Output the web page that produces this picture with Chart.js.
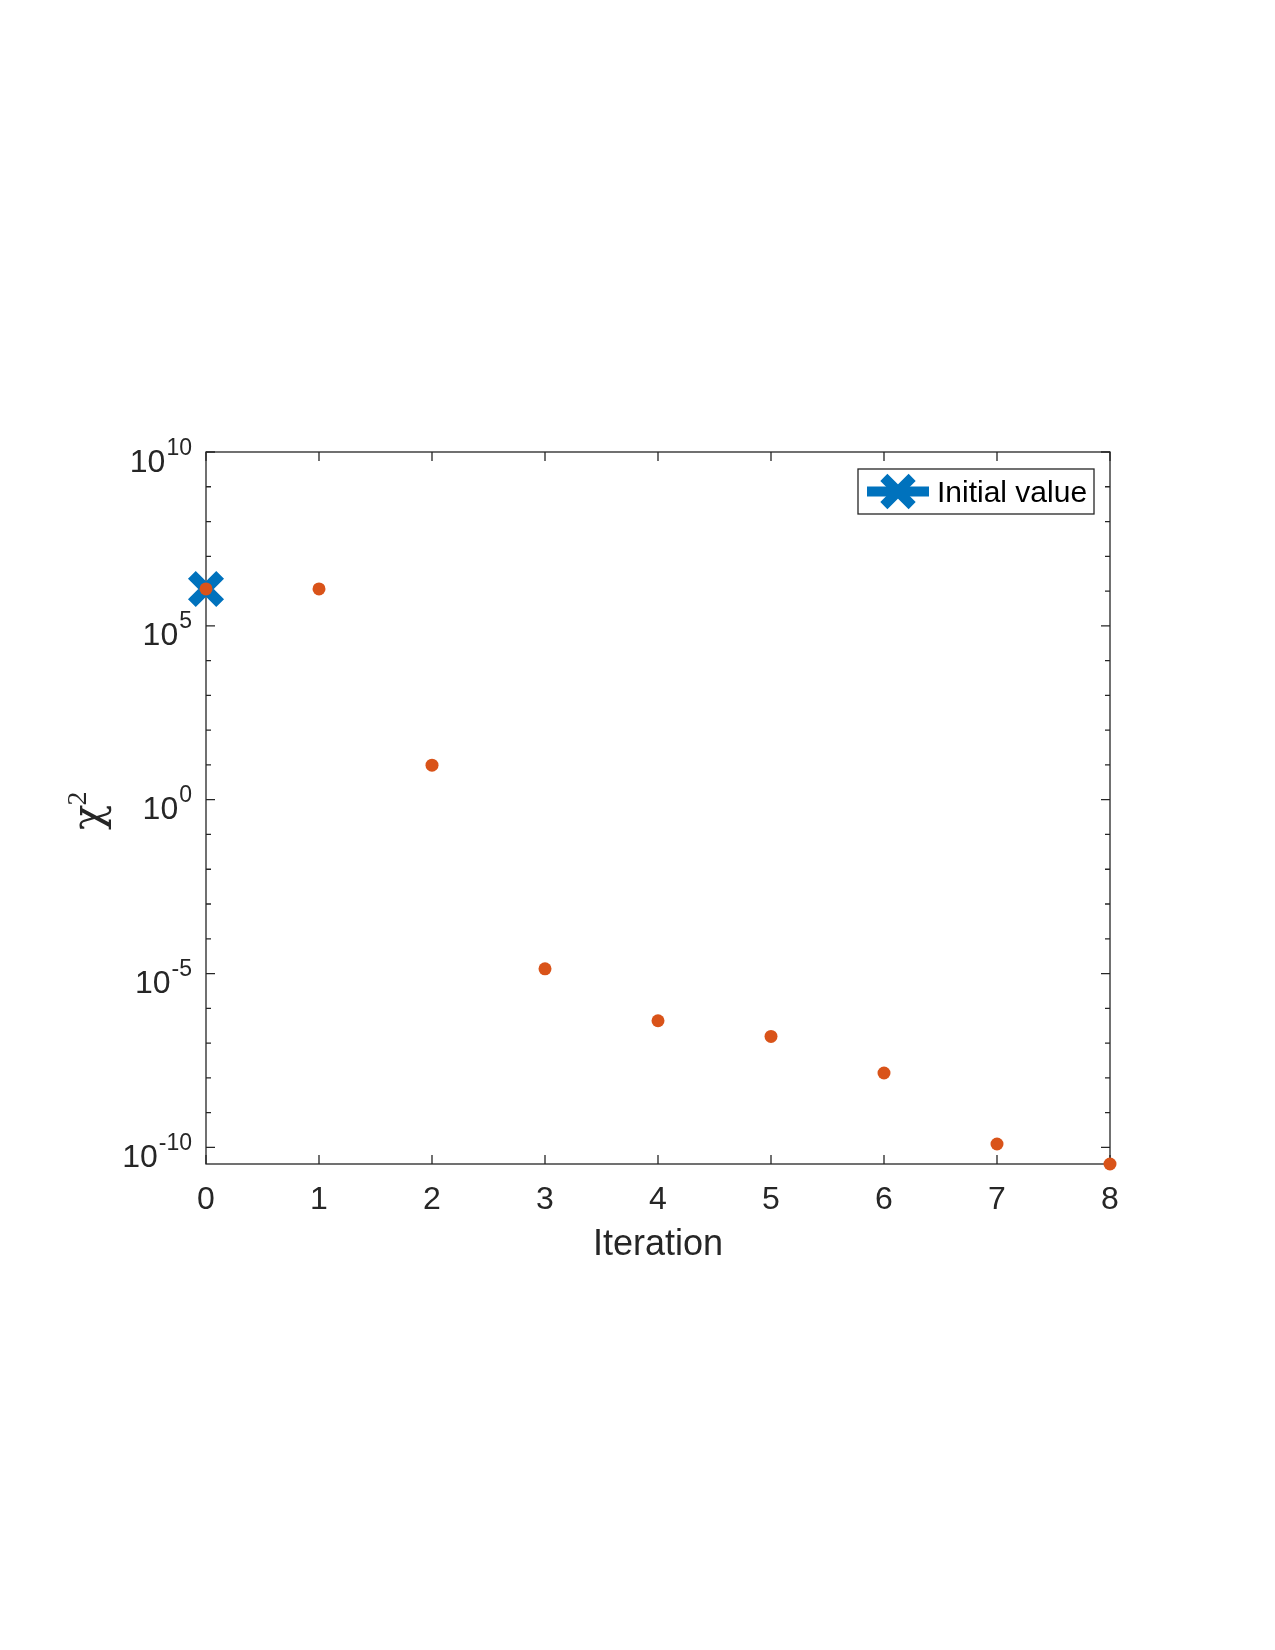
<!DOCTYPE html>
<html>
<head>
<meta charset="utf-8">
<title>chi2 vs iteration</title>
<script src="https://cdn.jsdelivr.net/npm/chart.js@4.4.1/dist/chart.umd.min.js"></script>
<style>
  html, body { margin: 0; padding: 0; background: #fff; }
  canvas { display: block; }
</style>
</head>
<body>
<canvas id="chart" width="1275" height="1650"></canvas>
<script>
// data
const iterations = [0, 1, 2, 3, 4, 5, 6, 7, 8]
const chi2 = [1.15e6, 1.15e6, 9.85, 1.37e-5, 4.39e-7, 1.55e-7, 1.38e-8, 1.25e-10, 3.33e-11]
const initialIter = [0]
const initialChi2 = [1.15e6]

const xTicks = [0, 1, 2, 3, 4, 5, 6, 7, 8]
const yMajorExps = [-10, -5, 0, 5, 10]
const yMinorExps = [-9, -8, -7, -6, -4, -3, -2, -1, 1, 2, 3, 4, 6, 7, 8, 9]
const legendLabel = 'Initial value'
const xTitle = 'Iteration'

const axisColor = '#262626'
const sans = '"Liberation Sans", Arial, Helvetica, sans-serif'

// axes box, ticks, labels, legend (MATLAB look)
const matlabAxes = {
  id: 'matlabAxes',
  beforeDatasetsDraw(chart) {
    const { ctx, chartArea: a, scales: { x, y } } = chart
    ctx.save()
    ctx.strokeStyle = axisColor
    ctx.lineWidth = 1.3
    ctx.strokeRect(a.left, a.top, a.right - a.left, a.bottom - a.top)

    ctx.beginPath()
    xTicks.forEach(v => {
      const px = x.getPixelForValue(v)
      ctx.moveTo(px, a.bottom); ctx.lineTo(px, a.bottom - 9)
      ctx.moveTo(px, a.top); ctx.lineTo(px, a.top + 9)
    })
    yMajorExps.forEach(e => {
      const py = y.getPixelForValue(Math.pow(10, e))
      ctx.moveTo(a.left, py); ctx.lineTo(a.left + 9, py)
      ctx.moveTo(a.right, py); ctx.lineTo(a.right - 9, py)
    })
    yMinorExps.forEach(e => {
      const py = y.getPixelForValue(Math.pow(10, e))
      ctx.moveTo(a.left, py); ctx.lineTo(a.left + 5, py)
      ctx.moveTo(a.right, py); ctx.lineTo(a.right - 5, py)
    })
    ctx.stroke()

    ctx.fillStyle = axisColor
    // x tick labels
    ctx.font = '32px ' + sans
    ctx.textAlign = 'center'
    ctx.textBaseline = 'alphabetic'
    xTicks.forEach(v => {
      ctx.fillText(String(v), x.getPixelForValue(v), a.bottom + 45)
    })

    // y tick labels 10^e
    yMajorExps.forEach(e => {
      const py = y.getPixelForValue(Math.pow(10, e))
      const sup = e < 0 ? '-' + Math.abs(e) : String(e)
      ctx.font = '23px ' + sans
      ctx.textAlign = 'right'
      const right = a.left - 14
      const supW = ctx.measureText(sup).width
      ctx.fillText(sup, right, py + 2.5)
      ctx.font = '32px ' + sans
      ctx.fillText('10', right - supW - 1, py + 19.5)
    })

    // x title
    ctx.font = '36px ' + sans
    ctx.textAlign = 'center'
    ctx.fillText(xTitle, (a.left + a.right) / 2, a.bottom + 91)

    // y title chi^2, rotated
    ctx.save()
    ctx.translate(102, 830)
    ctx.rotate(-Math.PI / 2)
    ctx.textAlign = 'left'
    ctx.font = '42px "DejaVu Serif", "Liberation Serif", serif'
    ctx.fillText('χ', 0, 0)
    const cw = ctx.measureText('χ').width
    ctx.font = '28px "Liberation Serif", "DejaVu Serif", serif'
    ctx.fillText('2', cw - 1, -16)
    ctx.restore()

    ctx.restore()
  },
  afterDraw(chart) {
    const { ctx } = chart
    const ds = chart.data.datasets[1]
    ctx.save()
    // legend box
    ctx.fillStyle = '#fff'
    ctx.fillRect(858, 469, 236, 45)
    ctx.strokeStyle = axisColor
    ctx.lineWidth = 1.3
    ctx.strokeRect(858, 469, 236, 45)
    // line sample
    ctx.strokeStyle = ds.borderColor
    ctx.lineWidth = 10
    ctx.beginPath()
    ctx.moveTo(867, 491.5); ctx.lineTo(929, 491.5)
    ctx.stroke()
    Chart.helpers.drawPoint(ctx, {
      pointStyle: ds.pointStyle,
      radius: ds.pointRadius,
      borderWidth: ds.borderWidth,
      rotation: 0
    }, 898, 491.5)
    ctx.fillStyle = '#000'
    ctx.font = '30px ' + sans
    ctx.textAlign = 'left'
    ctx.textBaseline = 'alphabetic'
    ctx.fillText(legendLabel, 937, 502)
    ctx.restore()
  }
}

new Chart(document.getElementById('chart'), {
  type: 'scatter',
  data: {
    datasets: [
      {
        label: 'chi2',
        data: iterations.map((it, i) => ({ x: it, y: chi2[i] })),
        backgroundColor: '#D95319',
        borderColor: '#D95319',
        borderWidth: 0,
        pointRadius: 6.5,
        pointHoverRadius: 6.5,
        clip: false
      },
      {
        label: legendLabel,
        data: initialIter.map((it, i) => ({ x: it, y: initialChi2[i] })),
        pointStyle: 'crossRot',
        borderColor: '#0072BD',
        backgroundColor: '#0072BD',
        borderWidth: 11,
        pointRadius: 20,
        pointHoverRadius: 20,
        clip: false
      }
    ]
  },
  options: {
    responsive: false,
    animation: false,
    devicePixelRatio: 1,
    layout: { padding: { left: 206, top: 452, right: 165, bottom: 486 } },
    scales: {
      x: { type: 'linear', min: 0, max: 8, display: false },
      y: { type: 'logarithmic', min: 3.33e-11, max: 1e10, display: false }
    },
    plugins: {
      legend: { display: false },
      tooltip: { enabled: false }
    }
  },
  plugins: [matlabAxes]
})
</script>
</body>
</html>
